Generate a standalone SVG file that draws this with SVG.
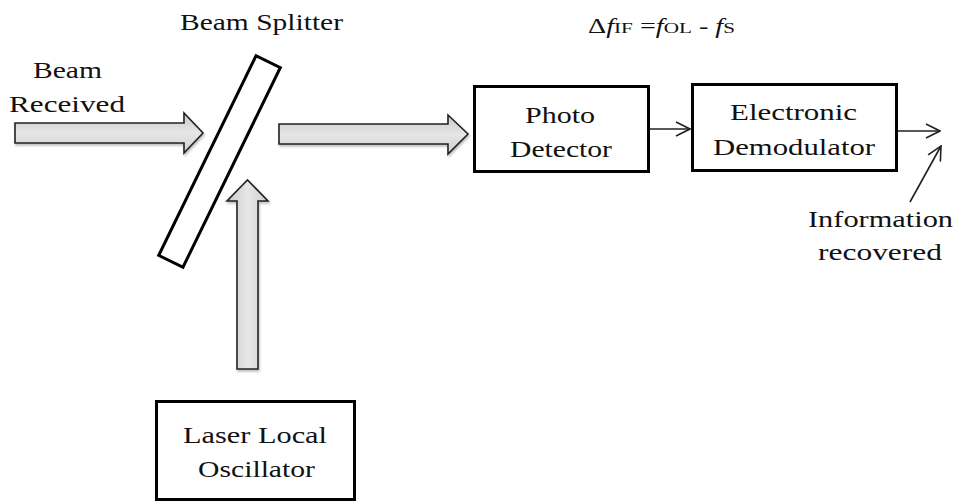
<svg xmlns="http://www.w3.org/2000/svg" width="961" height="504" viewBox="0 0 961 504">
  <defs>
    <linearGradient id="beamFillH" x1="0" y1="0" x2="0" y2="1">
      <stop offset="0" stop-color="#c9c9c9"/>
      <stop offset="0.5" stop-color="#e6e6e6"/>
      <stop offset="1" stop-color="#cfcfcf"/>
    </linearGradient>
    <linearGradient id="beamFillV" x1="0" y1="0" x2="1" y2="0">
      <stop offset="0" stop-color="#c9c9c9"/>
      <stop offset="0.5" stop-color="#e6e6e6"/>
      <stop offset="1" stop-color="#cfcfcf"/>
    </linearGradient>
    <filter id="softShadow" x="-10%" y="-10%" width="130%" height="140%">
      <feDropShadow dx="1" dy="2" stdDeviation="1.2" flood-color="#000" flood-opacity="0.25"/>
    </filter>
    <marker id="openHead" viewBox="0 0 16 16" refX="15" refY="8" markerWidth="16" markerHeight="16" markerUnits="userSpaceOnUse" orient="auto">
      <path d="M1,1 L15,8 L1,15" fill="none" stroke="#222" stroke-width="1.6"/>
    </marker>
  </defs>
  <style>
    .box { fill: #fff; stroke: #000; stroke-width: 3; }
    .beam { stroke: #222; stroke-width: 1.6; stroke-linejoin: miter; filter: url(#softShadow); }
    .label { font-family: "Liberation Serif", "Times New Roman", serif; font-size: 24px; fill: #111; }
    .formula { font-family: "Liberation Serif", "Times New Roman", serif; font-size: 20px; fill: #111; }
    .sub { font-size: 15px; }
    .wire { stroke: #222; stroke-width: 1.6; fill: none; }
  </style>

  <rect width="961" height="504" fill="#fff"/>

  <!-- optical beams (block arrows) and electrical signal lines -->
  <g id="connectors">
    <polygon class="beam" fill="url(#beamFillH)" points="15,123 184,123 184,113 203,133 184,153 184,143 15,143"/>
    <polygon class="beam" fill="url(#beamFillH)" points="279,124 448,124 448,115 468,134 448,154 448,144 279,144"/>
    <polygon class="beam" fill="url(#beamFillV)" points="237,369 237,201 227,201 247.5,180 268,201 258,201 258,369"/>
    <line class="wire" x1="650" y1="129" x2="690" y2="129" marker-end="url(#openHead)"/>
    <line class="wire" x1="898" y1="131" x2="940" y2="131" marker-end="url(#openHead)"/>
    <line class="wire" x1="910" y1="202" x2="941" y2="146" marker-end="url(#openHead)"/>
  </g>

  <!-- beam splitter plate -->
  <g id="beam-splitter">
    <rect class="box" x="-13.5" y="-111" width="27" height="222" transform="translate(219.5 161.5) rotate(26)"/>
    <text class="label" x="180" y="30" textLength="163" lengthAdjust="spacingAndGlyphs">Beam Splitter</text>
  </g>

  <g id="beam-received">
    <text class="label" x="33" y="78" textLength="69" lengthAdjust="spacingAndGlyphs">Beam</text>
    <text class="label" x="9" y="112" textLength="116" lengthAdjust="spacingAndGlyphs">Received</text>
  </g>

  <g id="photo-detector">
    <rect class="box" x="474.5" y="86.5" width="174" height="85"/>
    <text class="label" x="525" y="123" textLength="70" lengthAdjust="spacingAndGlyphs">Photo</text>
    <text class="label" x="510" y="157" textLength="102" lengthAdjust="spacingAndGlyphs">Detector</text>
  </g>

  <g id="demodulator">
    <rect class="box" x="692.5" y="84.5" width="204" height="86"/>
    <text class="label" x="730" y="120" textLength="127" lengthAdjust="spacingAndGlyphs">Electronic</text>
    <text class="label" x="713" y="155" textLength="162" lengthAdjust="spacingAndGlyphs">Demodulator</text>
  </g>

  <g id="local-oscillator">
    <rect class="box" x="156.5" y="401.5" width="198" height="98"/>
    <text class="label" x="183" y="443" textLength="144" lengthAdjust="spacingAndGlyphs">Laser Local</text>
    <text class="label" x="198" y="477" textLength="117" lengthAdjust="spacingAndGlyphs">Oscillator</text>
  </g>

  <g id="information-recovered">
    <text class="label" x="808" y="227" textLength="145" lengthAdjust="spacingAndGlyphs">Information</text>
    <text class="label" x="818" y="260" textLength="124" lengthAdjust="spacingAndGlyphs">recovered</text>
  </g>

  <!-- intermediate frequency relation -->
  <g id="if-formula">
    <text class="formula" x="588" y="33" textLength="147" lengthAdjust="spacingAndGlyphs">Δ<tspan font-style="italic">f</tspan><tspan class="sub">IF</tspan> =<tspan font-style="italic">f</tspan><tspan class="sub">OL</tspan> - <tspan font-style="italic">f</tspan><tspan class="sub">S</tspan></text>
  </g>
</svg>
